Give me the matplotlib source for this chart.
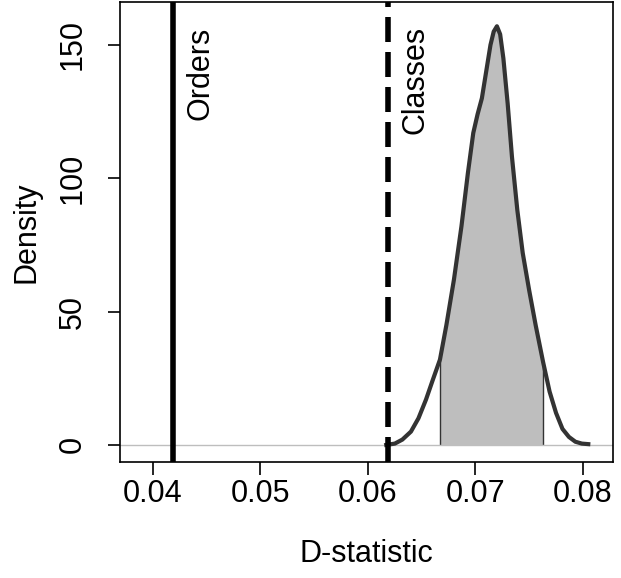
import matplotlib
matplotlib.use("Agg")
import matplotlib.pyplot as plt
import numpy as np

plt.rcParams['font.family'] = ['Liberation Sans', 'DejaVu Sans']

dens_x = [0.0617, 0.0625, 0.0632, 0.0640, 0.0647, 0.0654, 0.0660, 0.0667, 0.0673, 0.0680,
          0.0687, 0.0693, 0.0698, 0.0702, 0.0706, 0.0710, 0.0714, 0.0717, 0.0720, 0.0723,
          0.0726, 0.0730, 0.0734, 0.0739, 0.0744, 0.0750, 0.0756, 0.0763, 0.0769, 0.0775,
          0.0781, 0.0787, 0.0793, 0.0799, 0.0805]
dens_y = [0, 0.5, 2, 5, 10, 17, 24, 32, 45, 62,
          82, 102, 117, 124, 130, 140, 150, 155, 157, 154,
          145, 128, 108, 88, 72, 58, 45, 31, 20, 12,
          6, 3, 1.2, 0.5, 0.3]
shade_lo, shade_hi = 0.0667, 0.0763
orders_d = 0.04186
classes_d = 0.06186

fig = plt.figure(figsize=(6.21, 5.78), dpi=100)
ax = fig.add_axes([120/621, 116/578, 493/621, 460/578])

xs = np.array(dens_x)
ys = np.array(dens_y)
mask = (xs >= shade_lo) & (xs <= shade_hi)
ax.fill_between(xs[mask], ys[mask], color='#bebebe', linewidth=0)
ax.vlines([shade_lo, shade_hi], 0, [np.interp(shade_lo, xs, ys), np.interp(shade_hi, xs, ys)],
          color='#333333', linewidth=1)
ax.axhline(0, color='#bebebe', linewidth=1)
ax.plot(xs, ys, color='#333333', linewidth=3, solid_joinstyle='round')
ax.axvline(orders_d, color='black', linewidth=4)
ax.axvline(classes_d, color='black', linewidth=4, linestyle=(0, (4.5, 1.8)))
ax.text(orders_d + 0.0012, 157, 'Orders', rotation=90, va='top', ha='left', fontsize=22)
ax.text(classes_d + 0.0012, 157, 'Classes', rotation=90, va='top', ha='left', fontsize=22)

ax.set_xlim(0.03693, 0.0828)
ax.set_ylim(-6.4, 166.1)
ax.set_xticks([0.04, 0.05, 0.06, 0.07, 0.08])
ax.set_xticklabels(['0.04', '0.05', '0.06', '0.07', '0.08'])
ax.set_yticks([0, 50, 100, 150])
ax.set_yticklabels(['0', '50', '100', '150'], rotation=90, va='center')
ax.tick_params(labelsize=22, length=9, width=1.2)
ax.tick_params(axis='x', pad=3)
ax.tick_params(axis='y', pad=14)
ax.set_xlabel('D-statistic', fontsize=22, labelpad=22)
ax.set_ylabel('Density', fontsize=22, labelpad=12)
for s in ax.spines.values():
    s.set_linewidth(1.2)

fig.savefig('out.png', dpi=100)
